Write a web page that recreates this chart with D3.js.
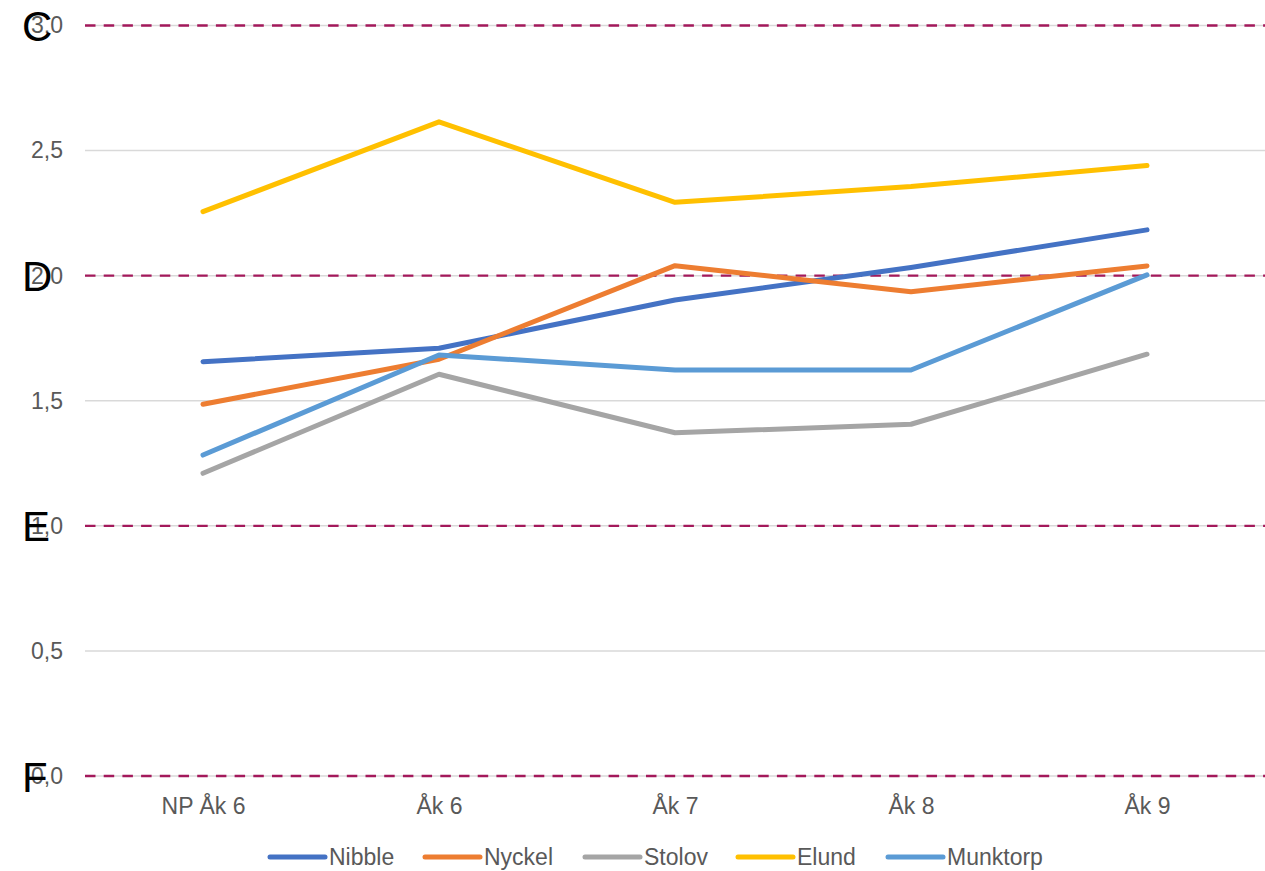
<!DOCTYPE html>
<html>
<head>
<meta charset="utf-8">
<script src="https://cdn.jsdelivr.net/npm/d3@7"></script>
<style>
  html, body { margin: 0; padding: 0; background: #fff; }
  svg { display: block; font-family: "Liberation Sans", Arial, sans-serif; }
</style>
</head>
<body>
<svg id="chart" width="1265" height="871"></svg>
<script>
// Terms (x categories)
const categories = ["NP Åk 6", "Åk 6", "Åk 7", "Åk 8", "Åk 9"];

// Average grade per school
const nibble   = [1.656, 1.710, 1.903, 2.033, 2.183];
const nyckel   = [1.486, 1.666, 2.040, 1.936, 2.039];
const stolov   = [1.210, 1.606, 1.372, 1.406, 1.686];
const elund    = [2.256, 2.615, 2.293, 2.356, 2.440];
const munktorp = [1.283, 1.683, 1.623, 1.623, 2.003];

const seriesNames = ["Nibble", "Nyckel", "Stolov", "Elund", "Munktorp"];
const seriesColors = ["#4472C4", "#ED7D31", "#A5A5A5", "#FFC000", "#5B9BD5"];

// Y ticks and grade reference levels
const yTicks = [0, 0.5, 1.0, 1.5, 2.0, 2.5, 3.0];
const gradeLevels = [3, 2, 1, 0];
const gradeLetters = ["C", "D", "E", "F"];

const series = [nibble, nyckel, stolov, elund, munktorp].map((vals, i) => ({
  name: seriesNames[i], color: seriesColors[i], values: vals
}));

const svg = d3.select("#chart");
const plotLeft = 85, plotRight = 1265, plotTop = 25.5, plotBottom = 776;
const labelSize = 23;

const x = d3.scalePoint().domain(categories).range([plotLeft, plotRight]).padding(0.5);
const y = d3.scaleLinear().domain([0, 3]).range([plotBottom, plotTop]);

// Horizontal gridlines
svg.append("g").selectAll("line").data(yTicks).join("line")
  .attr("x1", plotLeft).attr("x2", plotRight)
  .attr("y1", d => y(d)).attr("y2", d => y(d))
  .attr("stroke", "#d9d9d9").attr("stroke-width", 1.5);

// Y axis labels
const fmt = d => d3.format(".1f")(d).replace(".", ",");
const yAxis = svg.append("g").attr("transform", `translate(${plotLeft - 22},0)`)
  .call(d3.axisLeft(y).tickValues(yTicks).tickFormat(fmt).tickSize(0).tickPadding(0));
yAxis.select(".domain").remove();
yAxis.selectAll("text").attr("fill", "#595959").attr("font-size", labelSize)
  .attr("font-family", "Liberation Sans, Arial, sans-serif");

// X axis labels
const xAxis = svg.append("g").attr("transform", `translate(0,${plotBottom + 22})`)
  .call(d3.axisBottom(x).tickSize(0).tickPadding(0));
xAxis.select(".domain").remove();
xAxis.selectAll("text").attr("fill", "#595959").attr("font-size", labelSize)
  .attr("dy", "0.71em")
  .attr("font-family", "Liberation Sans, Arial, sans-serif");

// Dashed grade boundaries
svg.append("g").selectAll("line").data(gradeLevels).join("line")
  .attr("x1", plotLeft).attr("x2", plotRight)
  .attr("y1", d => y(d)).attr("y2", d => y(d))
  .attr("stroke", "#A3195B").attr("stroke-width", 2.3)
  .attr("stroke-dasharray", "10.5,8.2");

// Series lines
const line = d3.line().x((d, i) => x(categories[i])).y(d => y(d));
svg.append("g").selectAll("path").data(series).join("path")
  .attr("d", d => line(d.values))
  .attr("fill", "none")
  .attr("stroke", d => d.color)
  .attr("stroke-width", 5)
  .attr("stroke-linecap", "round")
  .attr("stroke-linejoin", "round");

// Grade letters over the axis labels
svg.append("g").selectAll("text").data(gradeLevels).join("text")
  .attr("x", 22).attr("y", d => y(d) + 15.5)
  .attr("font-size", 42)
  .attr("fill", "#000")
  .text((d, i) => gradeLetters[i]);

// Legend
const legendX = [270, 425, 585, 738, 888];
const legend = svg.append("g").selectAll("g").data(series).join("g")
  .attr("transform", (d, i) => `translate(${legendX[i]},857)`);
legend.append("line")
  .attr("x1", 0).attr("x2", 55).attr("y1", 0).attr("y2", 0)
  .attr("stroke", d => d.color).attr("stroke-width", 5)
  .attr("stroke-linecap", "round");
legend.append("text")
  .attr("x", 59).attr("y", 0).attr("dy", "0.36em")
  .attr("font-size", labelSize).attr("fill", "#595959")
  .text(d => d.name);
</script>
</body>
</html>
